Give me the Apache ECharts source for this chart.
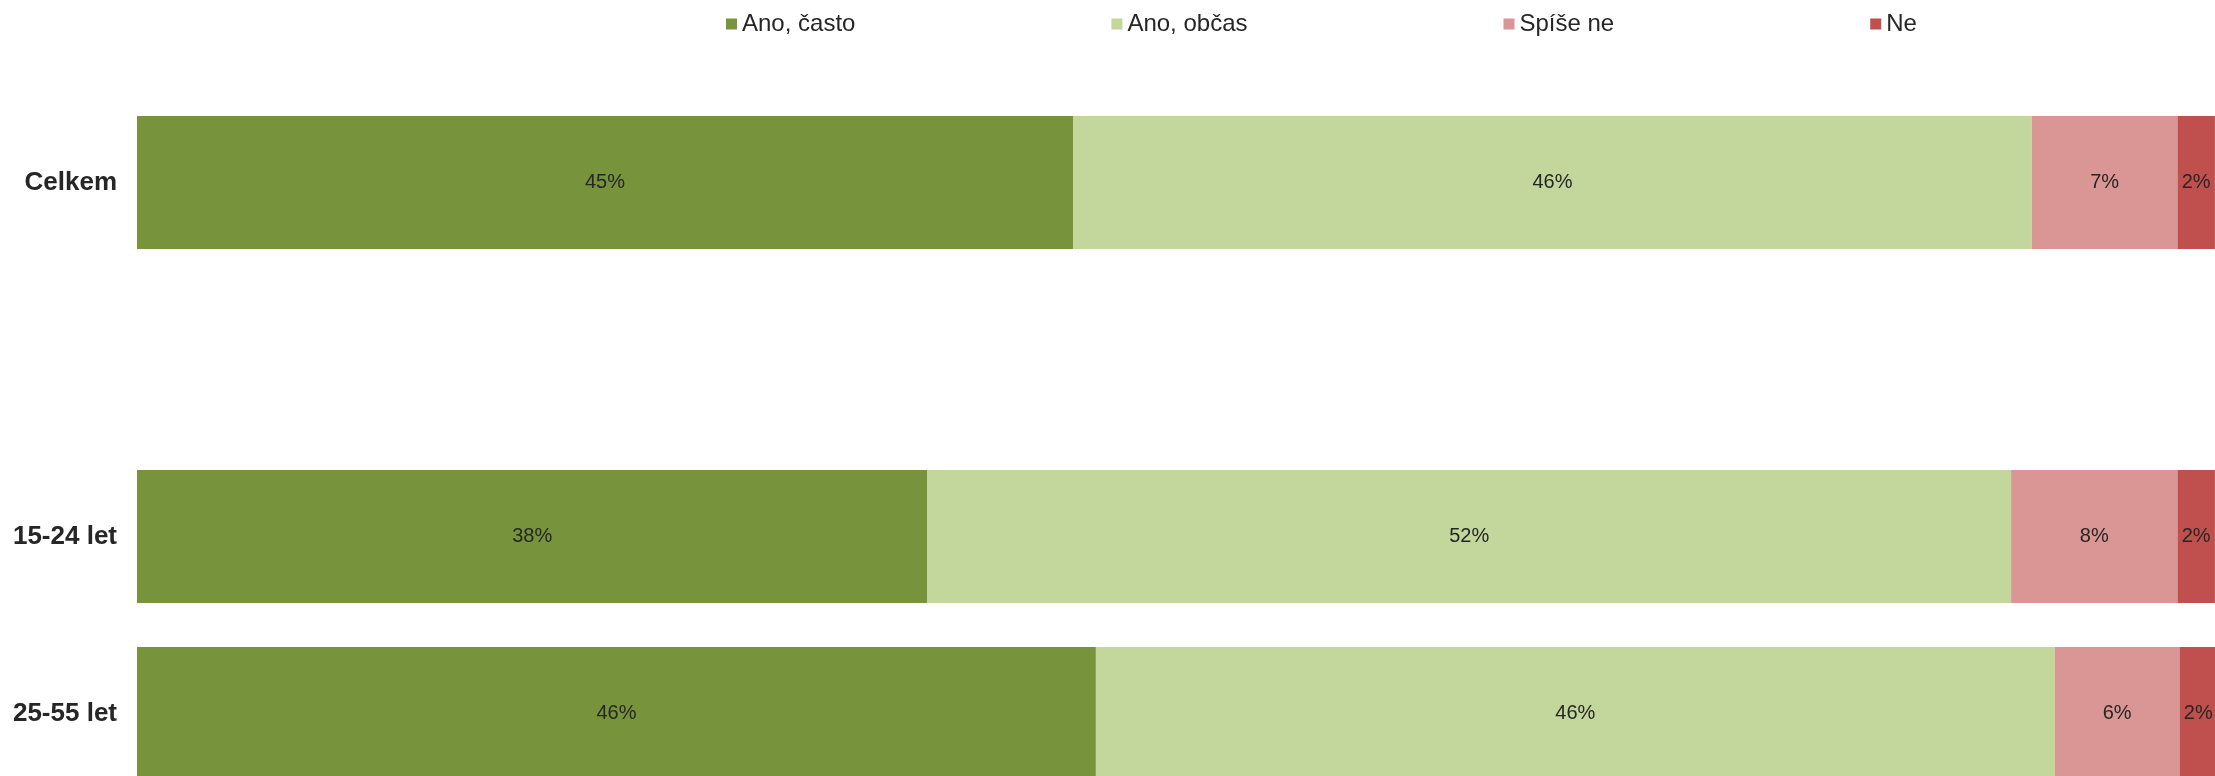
<!DOCTYPE html>
<html>
<head>
<meta charset="utf-8">
<style>
  html, body { margin: 0; padding: 0; background: #fff; overflow: hidden; }
  /* the original is cut off at the right and bottom edge, so the canvas is a bit larger than the window */
  #chart { width: 2225px; height: 810px; }
</style>
<script src="https://cdn.jsdelivr.net/npm/echarts@6/dist/echarts.min.js"></script>
</head>
<body>
<div id="chart"></div>
<script>
// rows top to bottom; the empty one is a spacer row in the original
const categories = ['Celkem', '', '15-24 let', '25-55 let'];
const seriesNames = ['Ano, často', 'Ano, občas', 'Spíše ne', 'Ne'];

// shares in %
const anoCasto = [45.0, null, 38.0, 46.1];
const anoObcas = [46.1, null, 52.1, 46.1];
const spiseNe  = [7.0, null, 8.0, 6.0];
const ne       = [1.8, null, 1.8, 1.8];

const colors = ['#77933C', '#C3D69B', '#D99694', '#C0504D'];
const FONT = '"Liberation Sans", Arial, Helvetica, sans-serif';
const TEXT = '#262626';

const chart = echarts.init(document.getElementById('chart'));

const values = [anoCasto, anoObcas, spiseNe, ne];
const series = seriesNames.map((name, i) => ({
    name,
    type: 'bar',
    stack: 'total',
    barWidth: 133,
    data: values[i],
    itemStyle: { color: colors[i] },
    label: {
        show: true,
        position: 'inside',
        color: TEXT,
        fontFamily: FONT,
        fontSize: 20,
        formatter: p => (p.value == null ? '' : Math.round(p.value) + '%'),
    },
    emphasis: { disabled: true },
}));

chart.setOption({
    animation: false,
    color: colors,
    legend: {
        left: 721,
        top: 7,
        itemWidth: 11,
        itemHeight: 11,
        itemGap: 256,
        icon: 'rect',
        textStyle: { color: TEXT, fontFamily: FONT, fontSize: 24 },
        data: seriesNames,
    },
    grid: { left: 137, top: 94, width: 2080, height: 708, containLabel: false },
    xAxis: {
        type: 'value',
        min: 0,
        max: 100,
        show: false,
    },
    yAxis: {
        type: 'category',
        inverse: true,
        data: categories,
        axisLine: { show: false },
        axisTick: { show: false },
        splitLine: { show: false },
        axisLabel: {
            margin: 20,
            color: TEXT,
            fontFamily: FONT,
            fontSize: 26,
            fontWeight: 'bold',
        },
    },
    series,
});
</script>
</body>
</html>
